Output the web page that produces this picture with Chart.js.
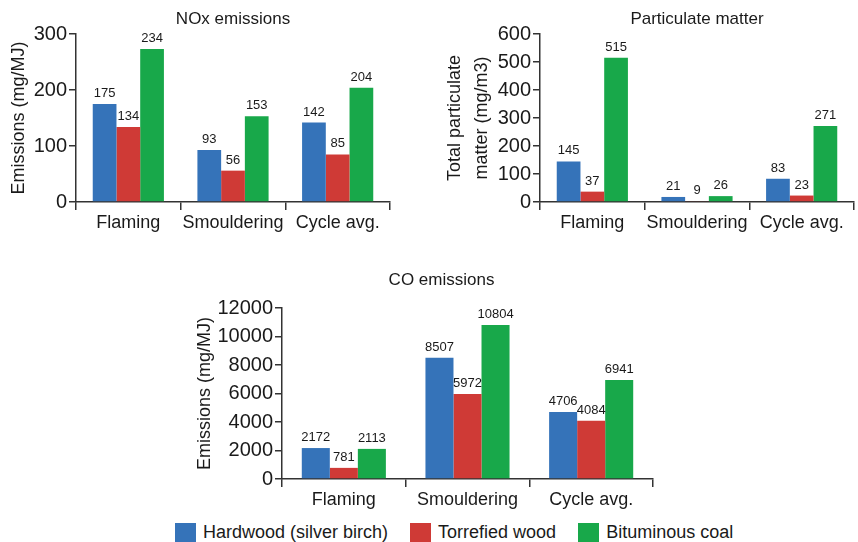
<!DOCTYPE html>
<html>
<head>
<meta charset="utf-8">
<script src="https://cdn.jsdelivr.net/npm/chart.js@4.4.1/dist/chart.umd.min.js"></script>
<style>
  body { margin: 0; background: #fff; width: 858px; height: 542px; position: relative; overflow: hidden; font-family: "Liberation Sans", Arial, sans-serif; }
  canvas { position: absolute; }
  #legend { position: absolute; left: 175px; top: 522px; display: flex; align-items: center; color: #1a1a1a; font-size: 18px; }
  #legend .item { display: flex; align-items: center; margin-right: 22px; }
  #legend .box { width: 21px; height: 19px; margin-right: 7px; }
</style>
</head>
<body>
<canvas id="nox" width="400" height="240" style="left:0;top:0"></canvas>
<canvas id="pm" width="428" height="240" style="left:430px;top:0"></canvas>
<canvas id="co" width="490" height="257" style="left:180px;top:260px"></canvas>
<div id="legend"></div>
<script>
const categories = ["Flaming", "Smouldering", "Cycle avg."];
const seriesNames = ["Hardwood (silver birch)", "Torrefied wood", "Bituminous coal"];
const seriesColors = ["#3573b9", "#cf3a36", "#18a84a"];

// NOx emissions (mg/MJ) - bar heights as drawn, labels as printed
const noxHardwood = [175, 93, 142];
const noxTorrefied = [134, 56, 85];
const noxCoal = [273, 153, 204];
const noxLabels = [["175", "93", "142"], ["134", "56", "85"], ["234", "153", "204"]];

// Particulate matter (mg/m3)
const pmHardwood = [145, 18, 83];
const pmTorrefied = [37, 3, 23];
const pmCoal = [515, 21, 271];
const pmLabels = [["145", "21", "83"], ["37", "9", "23"], ["515", "26", "271"]];

// CO emissions (mg/MJ)
const coHardwood = [2172, 8507, 4706];
const coTorrefied = [781, 5972, 4084];
const coCoal = [2113, 10804, 6941];
const coLabels = [["2172", "8507", "4706"], ["781", "5972", "4084"], ["2113", "10804", "6941"]];

const FONT = "'Liberation Sans', Arial, sans-serif";
const INK = "#1a1a1a";
const AXIS = "#333";

// value labels above each bar
const barLabels = {
  id: "barLabels",
  afterDatasetsDraw(chart) {
    const ctx = chart.ctx;
    ctx.save();
    ctx.font = "13px " + FONT;
    ctx.fillStyle = INK;
    ctx.textAlign = "center";
    ctx.textBaseline = "bottom";
    chart.data.datasets.forEach((ds, i) => {
      chart.getDatasetMeta(i).data.forEach((bar, j) => {
        ctx.fillText(ds.valueLabels[j], bar.x, bar.y - 4);
      });
    });
    ctx.restore();
  }
};

// chart title, centred on the plot (with optional shift)
const plotTitle = {
  id: "plotTitle",
  afterDraw(chart, args, opts) {
    const ctx = chart.ctx;
    const a = chart.chartArea;
    ctx.save();
    ctx.font = "17px " + FONT;
    ctx.fillStyle = INK;
    ctx.textAlign = "center";
    ctx.textBaseline = "middle";
    ctx.fillText(opts.text, (a.left + a.right) / 2 + (opts.shift || 0), opts.y);
    ctx.restore();
  }
};

function makeChart(id, cfg) {
  const sets = [cfg.hardwood, cfg.torrefied, cfg.coal];
  return new Chart(document.getElementById(id), {
    type: "bar",
    data: {
      labels: categories,
      datasets: sets.map((vals, i) => ({
        label: seriesNames[i],
        data: vals,
        valueLabels: cfg.labels[i],
        backgroundColor: seriesColors[i],
        borderWidth: 0,
        barPercentage: 1,
        categoryPercentage: 0.68
      }))
    },
    options: {
      responsive: false,
      animation: false,
      layout: { padding: cfg.padding },
      plugins: {
        legend: { display: false },
        tooltip: { enabled: false },
        plotTitle: cfg.title
      },
      scales: {
        x: {
          afterFit: (s) => { s.height = 38; },
          grid: { offset: true, drawOnChartArea: false, tickLength: 8, color: AXIS, lineWidth: 1.5 },
          border: { color: AXIS, width: 1.5 },
          ticks: { color: INK, font: { family: FONT, size: 18 }, padding: 2, autoSkip: false, maxRotation: 0, minRotation: 0 }
        },
        y: {
          min: 0,
          max: cfg.max,
          afterFit: (s) => { s.width = cfg.yWidth; },
          grid: { drawOnChartArea: false, tickLength: 7, color: AXIS, lineWidth: 1.5 },
          border: { color: AXIS, width: 1.5 },
          ticks: { stepSize: cfg.step, color: INK, font: { family: FONT, size: 20 }, padding: 2, callback: (v) => String(v) },
          title: {
            display: true,
            text: cfg.yTitle,
            color: INK,
            font: { family: FONT, size: 18, lineHeight: cfg.yLineHeight || 1.2 },
            padding: { top: cfg.yTitlePad, bottom: 0 }
          }
        }
      }
    },
    plugins: [barLabels, plotTitle]
  });
}

makeChart("nox", {
  hardwood: noxHardwood, torrefied: noxTorrefied, coal: noxCoal, labels: noxLabels,
  max: 300, step: 100, yWidth: 76, yTitle: "Emissions (mg/MJ)", yTitlePad: 8,
  padding: { top: 34, right: 10, left: 0, bottom: 0 },
  title: { text: "NOx emissions", y: 19 }
});

makeChart("pm", {
  hardwood: pmHardwood, torrefied: pmTorrefied, coal: pmCoal, labels: pmLabels,
  max: 600, step: 100, yWidth: 110, yTitle: ["Total particulate", "matter (mg/m3)"],
  yLineHeight: 1.5, yTitlePad: 12,
  padding: { top: 34, right: 4, left: 0, bottom: 0 },
  title: { text: "Particulate matter", y: 19 }
});

makeChart("co", {
  hardwood: coHardwood, torrefied: coTorrefied, coal: coCoal, labels: coLabels,
  max: 12000, step: 2000, yWidth: 102, yTitle: "Emissions (mg/MJ)", yTitlePad: 14,
  padding: { top: 48, right: 17, left: 0, bottom: 0 },
  title: { text: "CO emissions", y: 20, shift: -26 }
});

// shared legend
const legend = document.getElementById("legend");
seriesNames.forEach((name, i) => {
  const item = document.createElement("div");
  item.className = "item";
  const box = document.createElement("span");
  box.className = "box";
  box.style.background = seriesColors[i];
  const txt = document.createElement("span");
  txt.textContent = name;
  item.appendChild(box);
  item.appendChild(txt);
  legend.appendChild(item);
});
</script>
</body>
</html>
